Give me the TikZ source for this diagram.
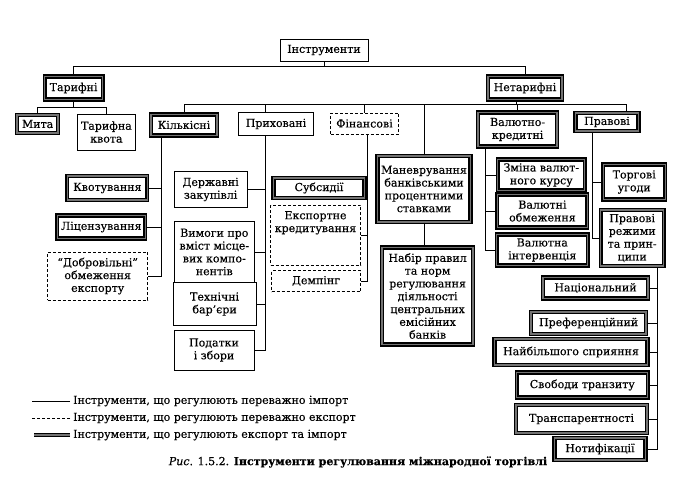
\documentclass[tikz,border=0pt]{standalone}
\usepackage{fontspec}
\setmainfont{DejaVu Serif}[FakeBold=0.35]

\begin{document}
\begin{tikzpicture}[x=1pt,y=-1pt,
    font=\fontsize{11}{12.8}\selectfont,
    box/.style={draw, line width=0.7pt, align=center, inner sep=1.5pt, fill=white},
    tbox/.style={box, line width=1.4pt, double=black!55, double distance=1.3pt},
    dbox/.style={box, dash pattern=on 3pt off 2pt},
    conn/.style={line width=0.7pt},
    legtext/.style={anchor=west, inner sep=3pt, font=\fontsize{11}{12}\selectfont}]
    \path[use as bounding box, fill=white] (0,0) rectangle (700,493);

    % корінь
    \node[box, minimum width=88, minimum height=22] (instr) at (324,50) {Інструменти};

    % тарифні
    \node[tbox, minimum width=58, minimum height=23] (tarif) at (73.6,88) {Тарифні};
    \node[tbox, minimum width=41, minimum height=18] (myta) at (37.6,124) {Мита};
    \node[box, minimum width=58, minimum height=36] (kvota) at (106.4,132) {Тарифна\\квота};

    % нетарифні
    \node[tbox, minimum width=74, minimum height=23] (netar) at (525,88) {Нетарифні};
    \node[tbox, minimum width=66, minimum height=21] (kilk) at (184,125) {Кількісні};
    \node[box, minimum width=75, minimum height=23] (pryh) at (276,124) {Приховані};
    \node[dbox, minimum width=68, minimum height=21] (fin) at (364.5,123.5) {Фінансові};
    \node[tbox, minimum width=79, minimum height=34] (valk) at (517.6,129.5) {Валютно-\\кредитні};
    \node[tbox, minimum width=63, minimum height=18] (prav) at (607,122) {Правові};

    % кількісні
    \node[tbox, minimum width=80, minimum height=24] (kvotuv) at (107.4,188) {Квотування};
    \node[tbox, minimum width=88, minimum height=23] (lits) at (101.3,227) {Ліцензування};
    \node[dbox, minimum width=100, minimum height=48] (dobr) at (97.7,276) {“Добровільні”\\обмеження\\експорту};

    % приховані
    \node[box, minimum width=73, minimum height=36] (derzh) at (210.6,189.5) {Державні\\закупівлі};
    \node[box, minimum width=80, minimum height=62] (vymogy) at (214.3,252) {Вимоги про\\вміст місце-\\вих компо-\\нентів};
    \node[box, minimum width=83, minimum height=43] (tekhn) at (214.6,304) {Технічні\\бар’єри};
    \node[box, minimum width=80, minimum height=40] (podat) at (214,350) {Податки\\і збори};

    % фінансові
    \node[tbox, minimum width=91, minimum height=20] (subs) at (319,188) {Субсидії};
    \node[dbox, minimum width=90, minimum height=60] (eksp) at (315.5,235) {Експортне\\кредитування\\[14pt]\mbox{}};
    \node[dbox, minimum width=89, minimum height=21] (demp) at (316,281) {Демпінг};

    % маневрування ставками
    \node[tbox, minimum width=93, minimum height=66] (man) at (424,189) {Маневрування\\банківськими\\процентними\\ставками};
    \node[tbox, minimum width=91, minimum height=97] (nabir) at (427.6,296) {Набір правил\\та норм\\регулювання\\діяльності\\центральних\\емісійних\\банків};

    % валютно-кредитні
    \node[tbox, minimum width=87, minimum height=31] (zmina) at (541.3,175) {Зміна валют-\\ного курсу};
    \node[tbox, minimum width=90, minimum height=33] (valobm) at (542.4,211) {Валютні\\обмеження};
    \node[tbox, minimum width=91, minimum height=31] (valint) at (542.3,250) {Валютна\\інтервенція};

    % правові
    \node[tbox, minimum width=62, minimum height=35] (torg) at (634.2,182) {Торгові\\угоди};
    \node[tbox, minimum width=63, minimum height=56] (rezh) at (632.2,238) {Правові\\режими\\та прин-\\ципи};

    % правові режими
    \node[tbox, minimum width=105, minimum height=21] (nats) at (595.5,288) {Національний};
    \node[tbox, minimum width=115, minimum height=22] (pref) at (588.6,323) {Преференційний};
    \node[tbox, minimum width=153, minimum height=26] (naib) at (571,352) {Найбільшого сприяння};
    \node[tbox, minimum width=131, minimum height=25] (svob) at (582.3,385) {Свободи транзиту};
    \node[tbox, minimum width=131, minimum height=28] (transp) at (581.5,419) {Транспарентності};
    \node[tbox, minimum width=91, minimum height=22] (notyf) at (600,449) {Нотифікації};

    % верхні лінії
    \draw[conn] (instr.south) -- ([yshift=-5pt]instr.south) coordinate (bus0);
    \draw[conn] (tarif.north) |- (bus0) -| (netar.north);
    \draw[conn] (tarif.south) -- ([yshift=-7pt]tarif.south) coordinate (tarifb);
    \draw[conn] (myta.north) |- (tarifb) -| (kvota.north);

    % лінії нетарифних
    \draw[conn] ([xshift=-9pt]netar.south) -- ++(0,4.5) coordinate (netarb);
    \coordinate (pravt) at ([xshift=19pt]prav.north);
    \draw[conn] (kilk.north) |- (netarb) -| (pravt);
    \coordinate (pryhb) at ([xshift=-11pt]pryh.south);
    \draw[conn] (pryhb |- pryh.north) -- (pryhb |- netarb);
    \draw[conn] (fin.north) -- (fin.north |- netarb);
    \draw[conn] (man.north) -- (man.north |- netarb);
    \draw[conn] (valk.north) -- (valk.north |- netarb);

    % гілки
    \coordinate (kilkb) at ([xshift=-22.5pt]kilk.south);
    \draw[conn] (kvotuv.east) -| (kilkb) (lits.east) -| (kilkb) (dobr.east) -| (kilkb);
    \draw[conn] (derzh.east) -| (pryhb) (vymogy.east) -| (pryhb) (tekhn.east) -| (pryhb) (podat.east) -| (pryhb);
    \coordinate (finb) at ([xshift=2.5pt]fin.south);
    \draw[conn] (subs.east) -| (finb) (eksp.east) -| (finb) (demp.east) -| (finb);
    \draw[conn] (man.south) -- (man.south |- nabir.north);
    \coordinate (valkb) at ([xshift=-32pt]valk.south);
    \draw[conn] (zmina.west) -| (valkb) (valobm.west) -| (valkb) (valint.west) -| (valkb);
    \coordinate (pravb) at ([xshift=-15pt]prav.south);
    \draw[conn] (torg.west) -| (pravb) (rezh.west) -| (pravb);
    \coordinate (rezhb) at ([xshift=25pt]rezh.south);
    \draw[conn] (nats.east) -| (rezhb) (pref.east) -| (rezhb) (naib.east) -| (rezhb)
        (svob.east) -| (rezhb) (transp.east) -| (rezhb) (notyf.east) -| (rezhb);

    % легенда
    \node[legtext] (leg1) at (70,401) {Інструменти, що регулюють переважно імпорт};
    \draw[conn] (leg1.west) -- ++(-38,0);
    \node[legtext] (leg2) at (70,418) {Інструменти, що регулюють переважно експорт};
    \draw[conn, dash pattern=on 3pt off 2pt] (leg2.west) -- ++(-38,0);
    \node[legtext] (leg3) at (70,435) {Інструменти, що регулюють експорт та імпорт};
    \draw[line width=1.4pt, double=black!55, double distance=1.3pt] (leg3.west) -- ++(-36,0);

    % підпис
    \node[font=\fontsize{11}{12}\selectfont] (capt) at (358,462) {\textit{Рис}. 1.5.2. \textbf{Інструменти регулювання міжнародної торгівлі}};
\end{tikzpicture}
\end{document}
